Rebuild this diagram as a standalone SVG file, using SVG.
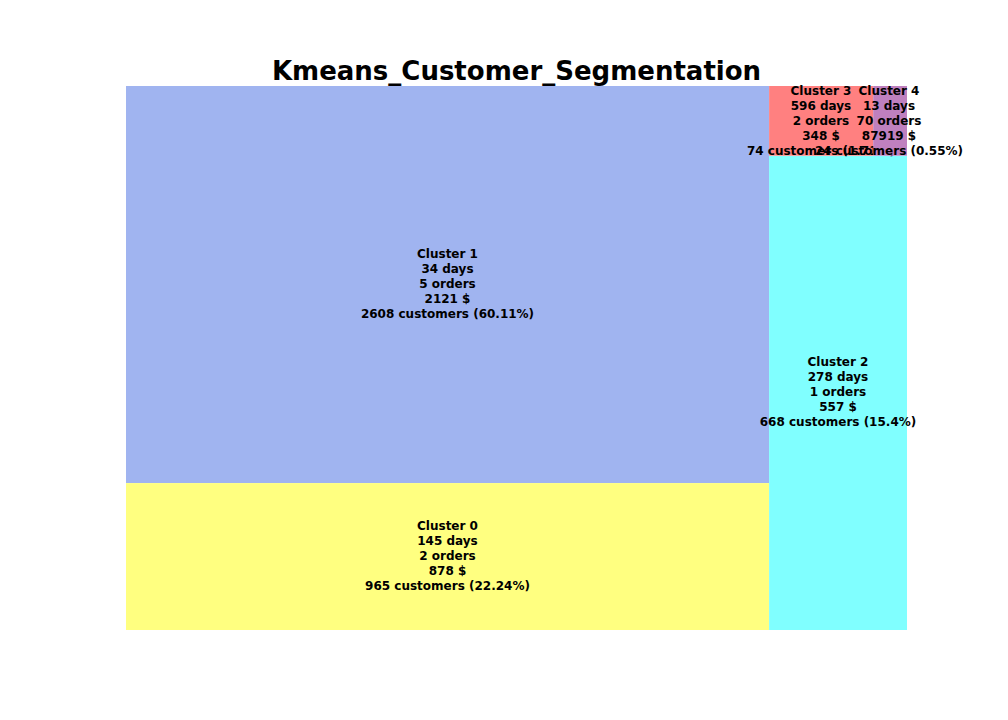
<svg xmlns="http://www.w3.org/2000/svg" width="1008" height="720" viewBox="0 0 1008 720">
<style>
.lbl{font-family:"DejaVu Sans","Liberation Sans",sans-serif;font-size:12px;font-weight:bold;fill:#000;text-anchor:middle}
.title{font-family:"DejaVu Sans","Liberation Sans",sans-serif;font-size:26px;font-weight:bold;fill:#000;text-anchor:middle}
</style>
<rect width="1008" height="720" fill="#fff"/>
<text class="title" x="516.5" y="80">Kmeans_Customer_Segmentation</text>
<g id="cluster1">
<rect x="126" y="86" width="643.1" height="397.1" fill="#A0B4F0"/>
<text class="lbl" x="447.5" y="257.5"><tspan x="447.5">Cluster 1</tspan><tspan x="447.5" dy="15">34 days</tspan><tspan x="447.5" dy="15">5 orders</tspan><tspan x="447.5" dy="15">2121 $</tspan><tspan x="447.5" dy="15">2608 customers (60.11%)</tspan></text>
</g>
<g id="cluster0">
<rect x="126" y="483.1" width="643.1" height="146.9" fill="#FFFF80"/>
<text class="lbl" x="447.5" y="529.5"><tspan x="447.5">Cluster 0</tspan><tspan x="447.5" dy="15">145 days</tspan><tspan x="447.5" dy="15">2 orders</tspan><tspan x="447.5" dy="15">878 $</tspan><tspan x="447.5" dy="15">965 customers (22.24%)</tspan></text>
</g>
<g id="cluster2">
<rect x="769.1" y="155.7" width="137.9" height="474.3" fill="#80FFFF"/>
<text class="lbl" x="838" y="365.5"><tspan x="838">Cluster 2</tspan><tspan x="838" dy="15">278 days</tspan><tspan x="838" dy="15">1 orders</tspan><tspan x="838" dy="15">557 $</tspan><tspan x="838" dy="15">668 customers (15.4%)</tspan></text>
</g>
<g id="cluster3">
<rect x="769.1" y="86" width="104.1" height="69.7" fill="#FF8080"/>
<text class="lbl" x="821" y="94.5"><tspan x="821">Cluster 3</tspan><tspan x="821" dy="15">596 days</tspan><tspan x="821" dy="15">2 orders</tspan><tspan x="821" dy="15">348 $</tspan><tspan x="821" dy="15">74 customers (1.71%)</tspan></text>
</g>
<g id="cluster4">
<rect x="873.2" y="86" width="33.8" height="69.7" fill="#BF80BF"/>
<text class="lbl" x="889" y="94.5"><tspan x="889">Cluster 4</tspan><tspan x="889" dy="15">13 days</tspan><tspan x="889" dy="15">70 orders</tspan><tspan x="889" dy="15">87919 $</tspan><tspan x="889" dy="15">24 customers (0.55%)</tspan></text>
</g>
<g id="connectors"/>
</svg>
